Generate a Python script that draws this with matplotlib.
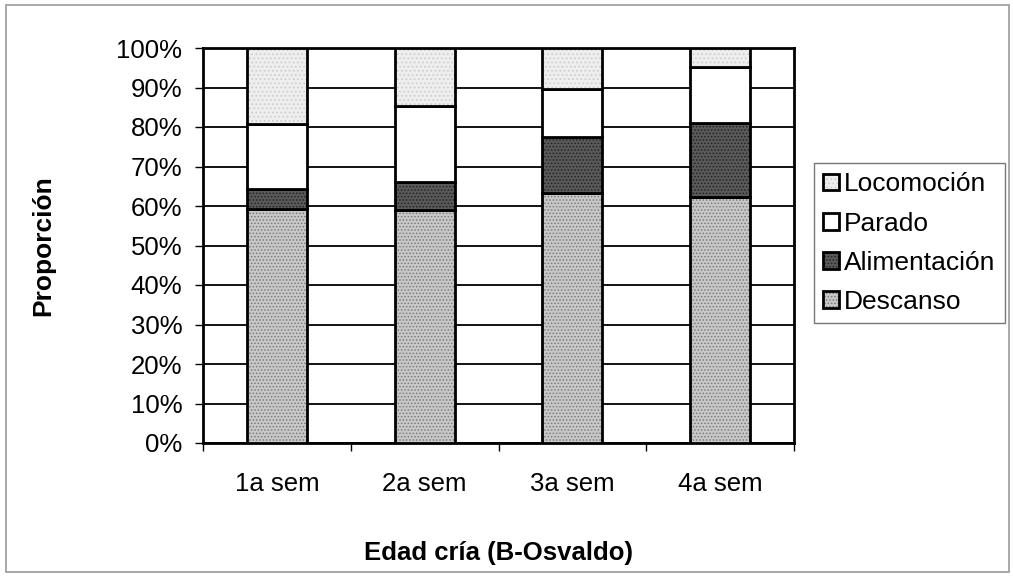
import matplotlib.pyplot as plt
import matplotlib.patches as mpatches
from matplotlib.colors import to_rgba
from matplotlib.ticker import FixedLocator, PercentFormatter

plt.rcParams['font.family'] = ['Liberation Sans', 'DejaVu Sans']
plt.rcParams['hatch.linewidth'] = 0.7

# data (percent per week)
semanas = ["1a sem", "2a sem", "3a sem", "4a sem"]
descanso = [59.2, 59.0, 63.3, 62.3]
alimentacion = [5.1, 7.1, 14.2, 18.7]
parado = [16.5, 19.2, 12.1, 14.2]
locomocion = [19.2, 14.7, 10.4, 4.8]

series = [
    ("Descanso", descanso, "#c8c8c8", "#7a7a7a", "....."),
    ("Alimentación", alimentacion, "#5a5a5a", "#222222", "....."),
    ("Parado", parado, "white", "white", None),
    ("Locomoción", locomocion, "#eeeeee", "#cccccc", "...."),
]

fig = plt.figure(figsize=(10.13, 5.77), dpi=100)
ax = fig.add_axes([203 / 1013, 1 - 443 / 577, 591 / 1013, 395 / 577])

# outer chart border
fig.patches.append(mpatches.Rectangle((6 / 1013, 5 / 577), 1003 / 1013, 567 / 577,
                                      transform=fig.transFigure, fill=False,
                                      edgecolor="#9a9a9a", linewidth=1.2))

x = list(range(len(semanas)))
bottom = [0.0] * len(semanas)
handles = []
for name, vals, fc, hc, hatch in series:
    bars = ax.bar(x, vals, width=0.405, bottom=bottom, facecolor=fc,
                  edgecolor="black", linewidth=2.0, zorder=3)
    if hatch:
        for b in bars:
            b.set_hatch(hatch)
            b._hatch_color = to_rgba(hc)
    bottom = [b + v for b, v in zip(bottom, vals)]
    handles.append(bars)

ax.set_xlim(-0.5, 3.5)
ax.set_ylim(0, 100)
ax.yaxis.set_major_locator(FixedLocator(range(0, 101, 10)))
ax.yaxis.set_major_formatter(PercentFormatter(decimals=0))
ax.yaxis.grid(True, color="black", linewidth=1.3, zorder=0)
ax.set_axisbelow(True)

ax.set_xticks(x)
ax.set_xticklabels(semanas)
ax.xaxis.set_minor_locator(FixedLocator([-0.5, 0.5, 1.5, 2.5, 3.5]))
ax.tick_params(axis="x", which="major", length=0, pad=21, labelsize=18.5)
ax.tick_params(axis="x", which="minor", length=6, width=1, direction="out")
ax.tick_params(axis="y", length=6, width=1, labelsize=18.5, pad=9)

for s in ax.spines.values():
    s.set_linewidth(2.0)

ax.set_xlabel("Edad cría (B-Osvaldo)", fontsize=18.5, fontweight="bold", labelpad=32)
ax.set_ylabel("Proporción", fontsize=19, fontweight="bold", labelpad=44)

leg = fig.legend(handles[::-1], [s[0] for s in series][::-1],
                 loc="upper left", bbox_to_anchor=(814 / 1013, 1 - 163 / 577),
                 fontsize=19, frameon=True, fancybox=False, edgecolor="#555555",
                 handlelength=0.6, handleheight=0.6, handletextpad=0.2,
                 labelspacing=0.58, borderpad=0.35, borderaxespad=0)
leg.get_frame().set_linewidth(1.0)

fig.savefig("out.png", dpi=100)
